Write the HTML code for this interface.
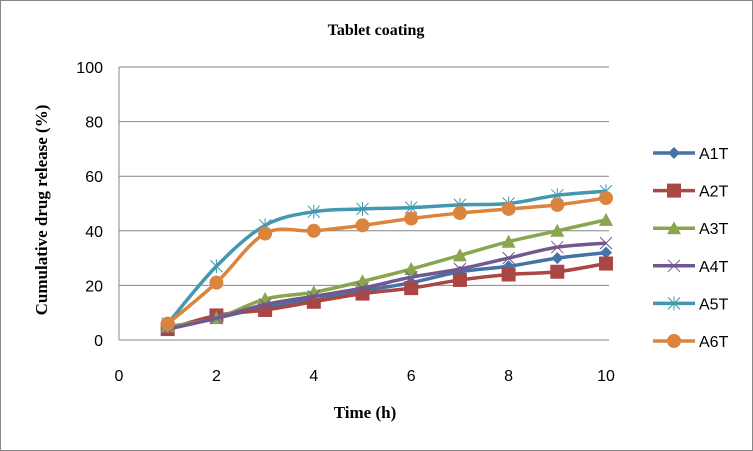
<!DOCTYPE html>
<html><head><meta charset="utf-8"><style>
body{margin:0;background:#fff}
svg{display:block;font-family:"Liberation Sans",sans-serif}
.serif{font-family:"Liberation Serif",serif;font-weight:bold}
</style></head><body>
<svg id="chart" width="753" height="451">
<rect x="0.5" y="0.5" width="752" height="450" fill="#fff" stroke="#868686"/>
<text class="serif" x="376" y="35" text-anchor="middle" font-size="16">Tablet coating</text>
<text class="serif" transform="translate(47,210) rotate(-90)" text-anchor="middle" font-size="17">Cumulative drug release (%)</text>
<text class="serif" x="365" y="418" text-anchor="middle" font-size="17">Time (h)</text>
<g id="grid"></g><g id="series"></g><g id="legend"></g>
</svg>
<script>
const xs=[1,2,3,4,5,6,7,8,9,10];
const names=["A1T","A2T","A3T","A4T","A5T","A6T"];
const colors=["#4572A7","#AA4643","#89A54E","#71588F","#4198AF","#DB843D"];
const a1=[4,8,12,15,18,21,25,27,30,32];
const a2=[4,9,11,14,17,19,22,24,25,28];
const a3=[5,8,15,17.5,21.5,26,31,36,40,44];
const a4=[4,8,13,16,19,23,26,30,34,35.5];
const a5=[6,27,42,47,48,48.5,49.5,50,53,54.5];
const a6=[6,21,39,40,42,44.5,46.5,48,49.5,52];
const yTicks=[0,20,40,60,80,100];
const xTicks=[0,2,4,6,8,10];
const series=[a1,a2,a3,a4,a5,a6];
const NS="http://www.w3.org/2000/svg";
const X=v=>119+v*48.7, Y=v=>340-v*2.73;
function mk(t,p,at){const e=document.createElementNS(NS,t);for(const k in at)e.setAttribute(k,at[k]);p.appendChild(e);return e;}
const grid=document.getElementById('grid');
yTicks.forEach(t=>{
  const l=mk('line',grid,{x1:119,x2:609,y1:Y(t),y2:Y(t),stroke:'#868686'});
  
  
  const tx=mk('text',grid,{x:103,y:Y(t)+6,'text-anchor':'end','font-size':16});
  tx.textContent=t;
  
  
});
const ax=mk('line',grid,{x1:119,x2:119,y1:67,y2:340,stroke:'#868686'});


xTicks.forEach(t=>{
  const tx=mk('text',grid,{x:X(t),y:381,'text-anchor':'middle','font-size':16});
  tx.textContent=t;
  
  
});
function path(pts){let d=`M${pts[0][0]},${pts[0][1]}`;
 for(let i=0;i<pts.length-1;i++){const p0=pts[Math.max(i-1,0)],p1=pts[i],p2=pts[i+1],p3=pts[Math.min(i+2,pts.length-1)];
 const c1=[p1[0]+(p2[0]-p0[0])/6,p1[1]+(p2[1]-p0[1])/6],c2=[p2[0]-(p3[0]-p1[0])/6,p2[1]-(p3[1]-p1[1])/6];
 d+=` C${c1[0]},${c1[1]} ${c2[0]},${c2[1]} ${p2[0]},${p2[1]}`;}return d;}
function marker(g,i,x,y,c){
 if(i==0)mk('path',g,{d:`M${x},${y-6}L${x+6},${y}L${x},${y+6}L${x-6},${y}Z`,fill:c});
 else if(i==1)mk('rect',g,{x:x-7,y:y-7,width:14,height:14,fill:c});
 else if(i==2)mk('path',g,{d:`M${x},${y-7}L${x+7},${y+6}L${x-7},${y+6}Z`,fill:c});
 else if(i==3)mk('path',g,{d:`M${x-6},${y-6}L${x+6},${y+6}M${x+6},${y-6}L${x-6},${y+6}`,stroke:c,'stroke-width':1});
 else if(i==4)mk('path',g,{d:`M${x-6},${y-6}L${x+6},${y+6}M${x+6},${y-6}L${x-6},${y+6}M${x},${y-7}L${x},${y+7}`,stroke:c,'stroke-width':1});
 else mk('circle',g,{cx:x,cy:y,r:7,fill:c});
}
const sg=document.getElementById('series'),lg=document.getElementById('legend');
series.forEach((s,i)=>{
 const g=mk('g',sg,{});
 
 
 const pts=s.map((v,j)=>[X(xs[j]),Y(v)]);
 mk('path',g,{d:path(pts),fill:'none',stroke:colors[i],'stroke-width':3.5});
 pts.forEach(p=>marker(g,i,p[0],p[1],colors[i]));
 const ly=153+i*37.6;
 const le=mk('g',lg,{});
 
 
 mk('line',le,{x1:653,x2:695,y1:ly,y2:ly,stroke:colors[i],'stroke-width':3.5});
 marker(le,i,674,ly,colors[i]);
 const t=mk('text',le,{x:699,y:ly+6,'font-size':16});t.textContent=names[i];
});
</script>
</body></html>
